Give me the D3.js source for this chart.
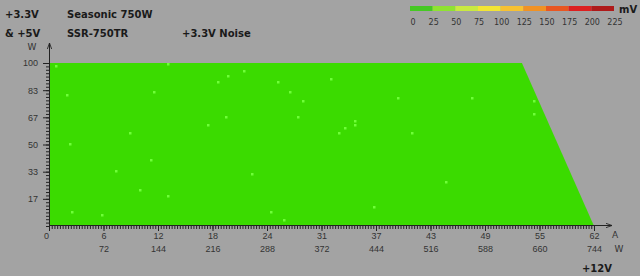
<!DOCTYPE html>
<html>
<head>
<meta charset="utf-8">
<script src="https://cdn.jsdelivr.net/npm/d3@7"></script>
<style>
  body { margin: 0; background: #a3a3a3; }
  svg { display: block; font-family: "DejaVu Sans", sans-serif; }
  .tick text { fill: #333; font-size: 9px; }
  .tick line { stroke: #222; }
  .ttl { font-weight: bold; font-size: 10px; fill: #1a1a1a; }
</style>
</head>
<body>
<svg id="chart" width="640" height="276"></svg>
<script>
// 12V current (A) / 3.3V+5V load (W) of the measured points
var pointAmps = [0.8, 13.5, 2.0, 11.9, 9.2, 22.2, 20.4, 19.2, 26.0, 27.4, 28.9, 20.1, 28.3, 18.1,
  32.1, 39.7, 34.8, 34.8, 33.7, 33.0, 41.3, 48.1, 55.2, 55.2, 2.4, 11.6, 7.6, 10.4, 13.5,
  2.6, 6.0, 23.1, 25.3, 26.7, 45.2, 37.0];
var pointWatts = [98.2, 99.5, 80.4, 82.2, 57.1, 95.1, 92.0, 88.3, 88.3, 82.2, 76.7, 66.9, 66.9, 62.0,
  90.2, 78.5, 64.4, 62.0, 60.1, 57.1, 57.1, 78.5, 76.7, 68.7, 50.3, 40.5, 33.7, 22.1, 18.4,
  8.6, 6.7, 31.9, 8.6, 3.7, 27.0, 11.7];
// noise level of each point, all in the lowest band (mV)
var pointNoise = pointAmps.map(function(){ return 10; });

// cross-load limit of the unit
var limitAmps = [0, 0, 53.8, 62];
var limitWatts = [0, 100, 100, 0];

var xTicks = [0, 6.2, 12.4, 18.6, 24.8, 31, 37.2, 43.4, 49.6, 55.8, 62];
var ampLabels = ["0", "6", "12", "18", "24", "31", "37", "43", "49", "55", "62"];
var wattLabels = ["", "72", "144", "216", "288", "372", "444", "516", "588", "660", "744"];
var yTicks = [16.67, 33.33, 50, 66.67, 83.33, 100];
var yLabels = ["17", "33", "50", "67", "83", "100"];

var noiseSteps = [0, 25, 50, 75, 100, 125, 150, 175, 200, 225];
var noiseColors = ["#46c823", "#8fe232", "#c9e941", "#f2e535", "#f7c132", "#f09224", "#e85722", "#dc2020", "#ae1a1a"];

var svg = d3.select("#chart");

var x = d3.scaleLinear().domain([0, 62]).range([49, 594]);
var y = d3.scaleLinear().domain([0, 100]).range([226, 63]);

// limit area
var limitPts = limitAmps.map(function(a, i){ return [a, limitWatts[i]]; });
svg.append("path")
  .attr("d", d3.line().x(function(d){ return x(d[0]); }).y(function(d){ return y(d[1]); })(limitPts) + "Z")
  .attr("fill", "#3bdb00");

// points
var noiseColorScale = d3.scaleThreshold().domain(noiseSteps.slice(1, -1)).range(noiseColors);
svg.append("g").selectAll("rect")
  .data(pointAmps)
  .enter().append("rect")
    .attr("x", function(d){ return Math.round(x(d)) - 1; })
    .attr("y", function(d, i){ return Math.round(y(pointWatts[i])) - 1; })
    .attr("width", 2.5)
    .attr("height", 2.5)
    .attr("fill", function(d, i){ return d3.color(noiseColorScale(pointNoise[i])).brighter(1.3); });

// arrows
svg.append("defs").append("marker")
  .attr("id", "arr").attr("viewBox", "0 0 8 8").attr("refX", 7).attr("refY", 4)
  .attr("markerWidth", 7).attr("markerHeight", 7).attr("orient", "auto")
  .append("path").attr("d", "M0,1.5L7,4L0,6.5").attr("fill", "none").attr("stroke", "#222").attr("stroke-width", 1);

// minor ticks
var xMinor = d3.range(0, 62.001, 6.2 / 20);
var yMinor = d3.range(0, 100.001, 100 / 48);
svg.append("g").attr("transform", "translate(0,226)")
  .call(d3.axisBottom(x).tickValues(xMinor).tickSize(3).tickFormat(""))
  .select(".domain").remove();
svg.append("g").attr("transform", "translate(49,0)")
  .call(d3.axisLeft(y).tickValues(yMinor).tickSize(3).tickFormat(""))
  .select(".domain").remove();

// major ticks
var xAxisG = svg.append("g").attr("transform", "translate(0,226)")
  .call(d3.axisBottom(x).tickValues(xTicks).tickSize(5).tickPadding(2)
    .tickFormat(function(d, i){ return ampLabels[i]; }));
xAxisG.select(".domain").remove();
xAxisG.selectAll(".tick").append("text")
  .attr("y", 20).attr("dy", "0.71em").attr("fill", "#333")
  .text(function(d, i){ return wattLabels[i]; });
xAxisG.selectAll(".tick").filter(function(d, i){ return i == 0; }).select("text")
  .attr("x", -3);

var yAxisG = svg.append("g").attr("transform", "translate(49,0)")
  .call(d3.axisLeft(y).tickValues(yTicks).tickSize(6).tickPadding(5)
    .tickFormat(function(d, i){ return yLabels[i]; }));
yAxisG.select(".domain").remove();

svg.append("line").attr("x1", 49).attr("y1", 225.5).attr("x2", 612).attr("y2", 225.5)
  .attr("stroke", "#222").attr("marker-end", "url(#arr)");
svg.append("line").attr("x1", 49.5).attr("y1", 226).attr("x2", 49.5).attr("y2", 43)
  .attr("stroke", "#222").attr("marker-end", "url(#arr)");

// unit labels
svg.append("text").attr("x", 32).attr("y", 50).attr("text-anchor", "middle")
  .attr("font-size", 9).attr("fill", "#333").text("W");
svg.append("text").attr("x", 615).attr("y", 238).attr("text-anchor", "middle")
  .attr("font-size", 9).attr("fill", "#333").text("A");
svg.append("text").attr("x", 619).attr("y", 252).attr("text-anchor", "middle")
  .attr("font-size", 9).attr("fill", "#333").text("W");

// titles
svg.append("text").attr("class", "ttl").attr("x", 5).attr("y", 18).text("+3.3V");
svg.append("text").attr("class", "ttl").attr("x", 5).attr("y", 37).text("& +5V");
svg.append("text").attr("class", "ttl").attr("x", 67).attr("y", 18).text("Seasonic 750W");
svg.append("text").attr("class", "ttl").attr("x", 67).attr("y", 37).text("SSR-750TR");
svg.append("text").attr("class", "ttl").attr("x", 182).attr("y", 37).text("+3.3V Noise");
svg.append("text").attr("class", "ttl").attr("x", 597).attr("y", 272).attr("text-anchor", "middle").text("+12V");

// noise legend
var lx = d3.scaleLinear().domain([0, 225]).range([410, 614]);
var legend = svg.append("g");
legend.selectAll("rect")
  .data(noiseColors)
  .enter().append("rect")
    .attr("x", function(d, i){ return lx(noiseSteps[i]); })
    .attr("y", 6)
    .attr("width", function(d, i){ return lx(noiseSteps[i + 1]) - lx(noiseSteps[i]); })
    .attr("height", 5)
    .attr("fill", function(d){ return d; });
legend.selectAll("text")
  .data(noiseSteps)
  .enter().append("text")
    .attr("x", function(d, i){ return i == 0 ? lx(d) + 3 : lx(d) + 1; })
    .attr("y", 25)
    .attr("text-anchor", "middle")
    .attr("font-size", 8)
    .attr("fill", "#333")
    .text(function(d){ return d; });
svg.append("text").attr("class", "ttl").attr("x", 619).attr("y", 13).attr("font-size", 11).text("mV");
</script>
</body>
</html>
